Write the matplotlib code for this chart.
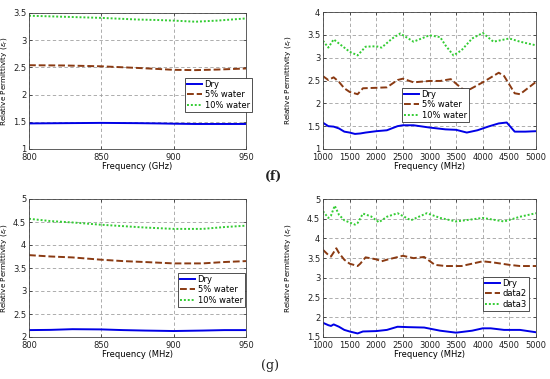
import matplotlib
matplotlib.use("Agg")
import matplotlib.pyplot as plt

# ---------- data ----------
# (f) left: 800-950
f_left_x = [800, 825, 850, 875, 890, 900, 915, 930, 950]
f_left_dry = [1.47, 1.475, 1.48, 1.475, 1.47, 1.465, 1.46, 1.46, 1.46]
f_left_w5 = [2.54, 2.535, 2.52, 2.49, 2.47, 2.455, 2.45, 2.46, 2.48]
f_left_w10 = [3.45, 3.43, 3.41, 3.38, 3.37, 3.36, 3.34, 3.36, 3.40]

# (f) right: 1000-5000
f_right_dry_x = [1000, 1100, 1200, 1300, 1400, 1500, 1600, 1700, 1800, 2000, 2200, 2400, 2500,
                 2700, 3000, 3300, 3500, 3700, 3900, 4100, 4300, 4450, 4600, 4800, 5000]
f_right_dry = [1.575, 1.50, 1.49, 1.45, 1.38, 1.36, 1.33, 1.34, 1.36, 1.39, 1.41, 1.50, 1.52,
               1.52, 1.47, 1.43, 1.42, 1.36, 1.41, 1.49, 1.56, 1.58, 1.38, 1.38, 1.39]
f_right_w5_x = [1000, 1100, 1200, 1300, 1400, 1500, 1650, 1750, 2000, 2200, 2400, 2500, 2700,
                3000, 3200, 3400, 3600, 3700, 4000, 4300, 4400, 4600, 4700, 5000]
f_right_w5 = [2.595, 2.51, 2.57, 2.47, 2.33, 2.25, 2.20, 2.33, 2.34, 2.35, 2.51, 2.54, 2.46,
              2.49, 2.49, 2.53, 2.33, 2.27, 2.46, 2.67, 2.60, 2.22, 2.20, 2.47]
f_right_w10_x = [1000, 1100, 1200, 1300, 1500, 1650, 1800, 2000, 2100, 2300, 2450, 2700, 3000,
                 3200, 3300, 3450, 3600, 3800, 4000, 4200, 4500, 4700, 5000]
f_right_w10 = [3.37, 3.22, 3.40, 3.31, 3.13, 3.05, 3.24, 3.25, 3.22, 3.42, 3.53, 3.35, 3.49,
               3.45, 3.27, 3.05, 3.16, 3.42, 3.54, 3.35, 3.42, 3.35, 3.27]

# (g) left: 800-950
g_left_x = [800, 815, 830, 850, 865, 880, 900, 920, 935, 950]
g_left_dry = [2.15, 2.155, 2.17, 2.165, 2.15, 2.14, 2.13, 2.14, 2.15, 2.15]
g_left_w5 = [3.78, 3.75, 3.73, 3.68, 3.65, 3.63, 3.60, 3.60, 3.63, 3.65]
g_left_w10 = [4.57, 4.52, 4.49, 4.44, 4.41, 4.38, 4.35, 4.35, 4.39, 4.42]

# (g) right: 1000-5000
g_right_dry_x = [1000, 1100, 1150, 1200, 1300, 1400, 1500, 1650, 1750, 2000, 2200, 2400, 2600,
                 2900, 3200, 3500, 3800, 4000, 4150, 4400, 4700, 5000]
g_right_dry = [1.86, 1.80, 1.78, 1.82, 1.76, 1.68, 1.64, 1.59, 1.64, 1.65, 1.68, 1.76, 1.75,
               1.74, 1.66, 1.61, 1.66, 1.72, 1.72, 1.68, 1.68, 1.62]
g_right_d2_x = [1000, 1100, 1150, 1250, 1300, 1400, 1500, 1650, 1700, 1800, 2000, 2100, 2200,
                2500, 2700, 2900, 3100, 3300, 3600, 4000, 4200, 4500, 4700, 5000]
g_right_d2 = [3.71, 3.58, 3.54, 3.75, 3.63, 3.46, 3.36, 3.30, 3.36, 3.52, 3.47, 3.42, 3.46,
              3.56, 3.50, 3.53, 3.33, 3.30, 3.30, 3.42, 3.39, 3.33, 3.30, 3.30]
g_right_d3_x = [1000, 1100, 1150, 1220, 1300, 1400, 1600, 1650, 1750, 1900, 2050, 2200, 2400,
                2650, 2950, 3200, 3500, 4000, 4400, 4700, 5000]
g_right_d3 = [4.69, 4.52, 4.58, 4.83, 4.60, 4.46, 4.35, 4.39, 4.63, 4.56, 4.41, 4.55, 4.64,
              4.46, 4.64, 4.52, 4.43, 4.52, 4.43, 4.55, 4.64]

labels_a = ["Dry", "5% water", "10% water"]
labels_b = ["Dry", "data2", "data3"]

# ---------- styling ----------
C_DRY = "#0000e6"
C_W5 = "#8a3a12"
C_W10 = "#33cc33"
FS = 6
W, H = 550, 379

fig = plt.figure(figsize=(5.5, 3.79), dpi=100)


def add_ax(l, t, r, b):
    return fig.add_axes([l / W, 1 - b / H, (r - l) / W, (b - t) / H])


def box_in_axes(ax, l, t, r, b):
    pos = ax.get_position()
    x0 = pos.x0 * W
    y1 = (1 - pos.y1) * H
    w = pos.width * W
    h = pos.height * H
    return ((l - x0) / w, 1 - (b - y1) / h)


def style(ax, xlim, ylim, xticks, yticks, xlabel, leg_labels, leg_box, ylab_x):
    ax.set_xlim(*xlim)
    ax.set_ylim(*ylim)
    ax.set_xticks(xticks)
    ax.set_yticks(yticks)
    ax.set_yticklabels([("%g" % v) for v in yticks])
    ax.tick_params(direction="in", labelsize=FS, length=2.5, width=0.5,
                   top=True, right=True, colors="#222222")
    ax.tick_params(axis="x", pad=3)
    ax.tick_params(axis="y", pad=2)
    ax.grid(True, linestyle=(0, (4, 3)), color="#a0a0a0", linewidth=0.6)
    for s in ax.spines.values():
        s.set_linewidth(0.6)
        s.set_color("#444444")
    ax.set_xlabel(xlabel, fontsize=FS, labelpad=0)
    ax.set_ylabel(r"Relative Permittivity ($\varepsilon_r$)", fontsize=5.2)
    pos = ax.get_position()
    ax.yaxis.set_label_coords((ylab_x / W - pos.x0) / pos.width, 0.5)
    leg = ax.legend(leg_labels, fontsize=FS, loc="lower left",
                    bbox_to_anchor=leg_box, frameon=True, fancybox=False,
                    borderpad=0.25, handlelength=1.8, handletextpad=0.3,
                    labelspacing=0.2, borderaxespad=0, framealpha=1)
    leg.get_frame().set_edgecolor("#333333")
    leg.get_frame().set_linewidth(0.6)


def plot3(ax, xs, ys):
    ax.plot(xs[0], ys[0], color=C_DRY, lw=1.4, ls="-")
    ax.plot(xs[1], ys[1], color=C_W5, lw=1.4, ls=(0, (3.5, 1.5)))
    ax.plot(xs[2], ys[2], color=C_W10, lw=1.4, ls=(0, (1, 1)))


# (f) left
ax1 = add_ax(29, 13, 246, 149)
plot3(ax1, [f_left_x] * 3, [f_left_dry, f_left_w5, f_left_w10])
style(ax1, (800, 950), (1, 3.5), [800, 850, 900, 950], [1, 1.5, 2, 2.5, 3, 3.5],
      "Frequency (GHz)", labels_a, box_in_axes(ax1, 185, 80, 244, 112), 9)

# (f) right
ax2 = add_ax(323, 12, 536, 149)
plot3(ax2, [f_right_dry_x, f_right_w5_x, f_right_w10_x], [f_right_dry, f_right_w5, f_right_w10])
style(ax2, (1000, 5000), (1, 4), list(range(1000, 5001, 500)), [1, 1.5, 2, 2.5, 3, 3.5, 4],
      "Frequency (MHz)", labels_a, box_in_axes(ax2, 402, 92, 462, 122), 293)

# (g) left
ax3 = add_ax(29, 199, 246, 337)
plot3(ax3, [g_left_x] * 3, [g_left_dry, g_left_w5, g_left_w10])
style(ax3, (800, 950), (2, 5), [800, 850, 900, 950], [2, 2.5, 3, 3.5, 4, 4.5, 5],
      "Frequency (MHz)", labels_a, box_in_axes(ax3, 178, 276, 245, 307), 9)

# (g) right
ax4 = add_ax(323, 199, 536, 337)
plot3(ax4, [g_right_dry_x, g_right_d2_x, g_right_d3_x], [g_right_dry, g_right_d2, g_right_d3])
style(ax4, (1000, 5000), (1.5, 5), list(range(1000, 5001, 500)), [1.5, 2, 2.5, 3, 3.5, 4, 4.5, 5],
      "Frequency (MHz)", labels_b, box_in_axes(ax4, 483, 282, 537, 311), 293)

fig.text(273 / W, 1 - 176 / H, "(f)", fontsize=9, family="DejaVu Serif", fontweight="bold",
         ha="center", va="center", color="#222222")
fig.text(270 / W, 1 - 365 / H, "(g)", fontsize=9, family="DejaVu Serif",
         ha="center", va="center", color="#222222")

fig.savefig("out.png", dpi=100)
